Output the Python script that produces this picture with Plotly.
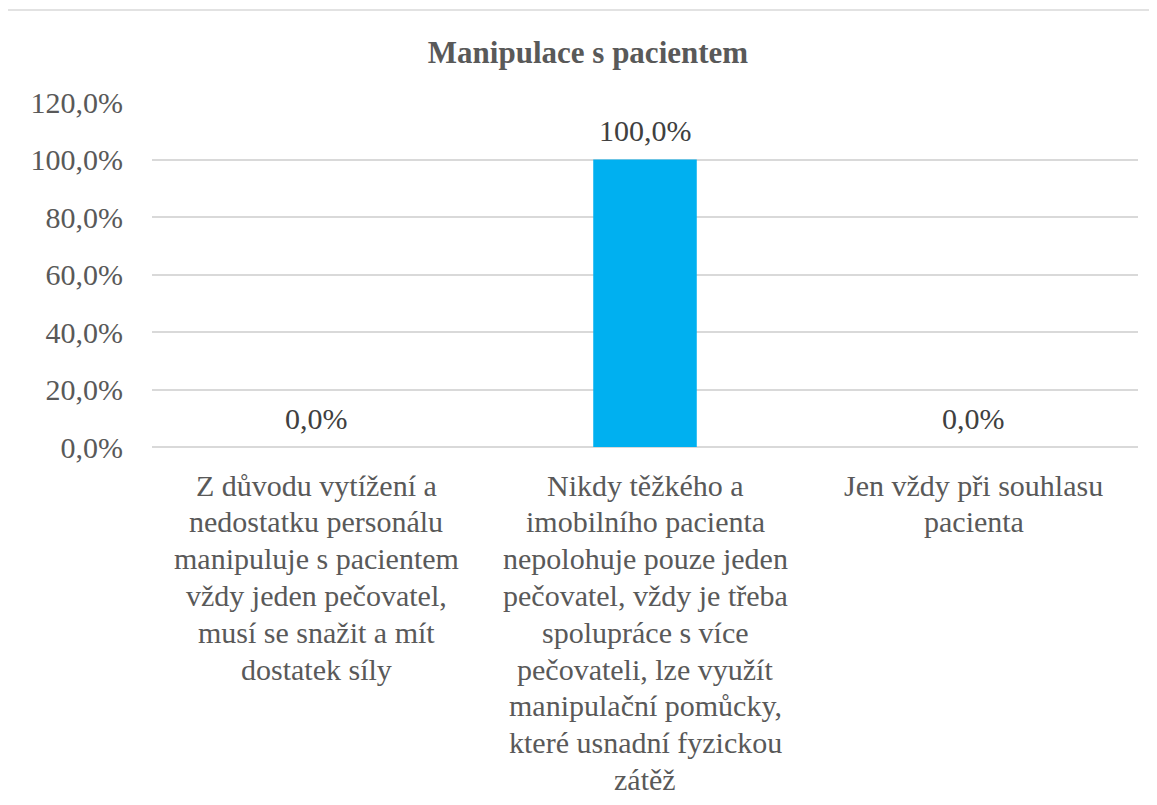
import plotly.graph_objects as go

categories = [
    "Z důvodu vytížení a<br>nedostatku personálu<br>manipuluje s pacientem<br>vždy jeden pečovatel,<br>musí se snažit a mít<br>dostatek síly",
    "Nikdy těžkého a<br>imobilního pacienta<br>nepolohuje pouze jeden<br>pečovatel, vždy je třeba<br>spolupráce s více<br>pečovateli, lze využít<br>manipulační pomůcky,<br>které usnadní fyzickou<br>zátěž",
    "Jen vždy při souhlasu<br>pacienta",
]
values = [0.0, 1.0, 0.0]
title_text = "Manipulace s pacientem"
tick_vals = [0, 0.2, 0.4, 0.6, 0.8, 1.0, 1.2]

FONT = "Liberation Serif, Times New Roman, serif"
GRAY = "#595959"

fig = go.Figure(go.Bar(
    x=categories,
    y=values,
    marker=dict(color="#00B0F0", line=dict(width=0)),
))

# page body has an 8px margin; compensate
OFF = 8
W, H = 1157 - OFF, 805 - OFF
L, R, T, B = 152 - OFF, 19, 102 - OFF, 358
pw = W - L - R
ph = H - T - B

LINE_H = 36.8
FIRST = 38
annotations = []
for cat in categories:
    for i, line in enumerate(cat.split("<br>")):
        annotations.append(dict(
            x=cat, xref="x", y=0, yref="paper",
            text=line, showarrow=False,
            xanchor="center", yanchor="middle",
            yshift=-(FIRST + i * LINE_H),
            font=dict(family=FONT, size=30, color=GRAY),
        ))
# data labels
for cat, v in zip(categories, values):
    annotations.append(dict(
        x=cat, xref="x", y=v, yref="y",
        text=f"{v*100:.1f}%".replace(".", ","), showarrow=False,
        xanchor="center", yanchor="middle", yshift=29,
        font=dict(family=FONT, size=30, color="#404040"),
    ))

fig.update_layout(
    width=W, height=H,
    margin=dict(l=L, r=R, t=T, b=B, autoexpand=False),
    paper_bgcolor="white",
    plot_bgcolor="white",
    separators=",.",
    bargap=0.685,
    showlegend=False,
    annotations=annotations,
    title=dict(
        text=f"<b>{title_text}</b>",
        font=dict(family=FONT, size=31, color=GRAY),
        x=(588 - OFF - L) / pw, xref="paper", xanchor="center",
        y=1 - (52 - OFF) / H, yref="container", yanchor="middle",
    ),
    xaxis=dict(
        showgrid=False,
        showline=False,
        ticks="",
        showticklabels=False,
        fixedrange=True,
    ),
    yaxis=dict(
        range=[0, 1.2],
        tickvals=tick_vals,
        tickformat=".1%",
        showgrid=True,
        gridcolor="#D9D9D9",
        gridwidth=1.5,
        zeroline=True,
        zerolinecolor="#D9D9D9",
        zerolinewidth=1.5,
        showline=False,
        ticks="",
        tickfont=dict(family=FONT, size=30, color=GRAY),
        ticklabelstandoff=28,
    ),
    shapes=[dict(
        type="rect", xref="paper", yref="paper",
        x0=(4 - OFF - L) / pw, x1=(W + 20 - L) / pw,
        y0=-2.0, y1=(H - B - (10 - OFF)) / ph,
        line=dict(color="#D9D9D9", width=1.5),
        fillcolor="rgba(0,0,0,0)",
        layer="below",
    )],
)

fig.write_html("out.html")
